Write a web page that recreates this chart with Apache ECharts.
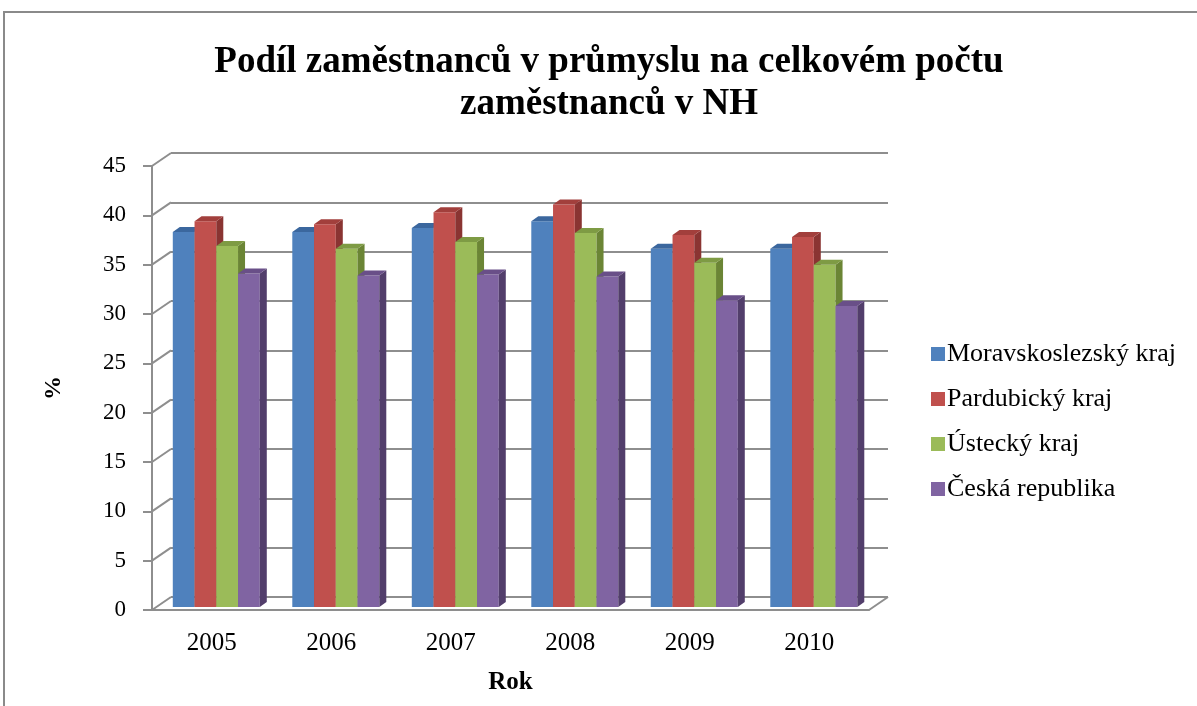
<!DOCTYPE html>
<html>
<head>
<meta charset="utf-8">
<script src="https://cdn.jsdelivr.net/npm/echarts@6/dist/echarts.min.js"></script>
<style>
  html, body { margin: 0; padding: 0; background: #fff; }
  #main { width: 1197px; height: 706px; }
</style>
</head>
<body>
<div id="main"></div>
<script>
var years = ['2005', '2006', '2007', '2008', '2009', '2010'];
var moravskoslezsky = [38.0, 38.0, 38.4, 39.1, 36.3, 36.3];
var pardubicky = [39.1, 38.8, 40.0, 40.8, 37.7, 37.5];
var ustecky = [36.6, 36.3, 37.0, 37.9, 34.9, 34.7];
var ceskaRepublika = [33.8, 33.6, 33.7, 33.5, 31.1, 30.5];
var yTicks = [0, 5, 10, 15, 20, 25, 30, 35, 40, 45];

var names = ['Moravskoslezský kraj', 'Pardubický kraj', 'Ústecký kraj', 'Česká republika'];
var colors = ['#4F81BD', '#C0504D', '#9BBB59', '#8064A2'];
var topColors = ['#3B679E', '#A23F3C', '#7E9B44', '#694F88'];
var sideColors = ['#385D8A', '#8A3432', '#6B8535', '#523E6B'];

// wall depth (back wall offset) and bar depth
var DX = 19, DY = -13;
var BDX = 7, BDY = -5;
var FONT = '"Liberation Serif", "Times New Roman", serif';

function barRender(k) {
  return function (params, api) {
    var i = api.value(0);
    var v = api.value(1);
    var base = api.coord([i, 0]);
    var head = api.coord([i, v]);
    var band = api.size([1, 0])[0];
    var w = band * 0.182;
    var x0 = base[0] - 2 * w + band * 0.038 + k * w;
    var x1 = x0 + w;
    var yb = base[1] - 3;
    var yt = head[1] - 3;
    return {
      type: 'group',
      children: [
        { type: 'polygon', shape: { points: [[x0, yb], [x1, yb], [x1, yt], [x0, yt]] },
          style: { fill: colors[k] } },
        { type: 'polygon', shape: { points: [[x1, yb], [x1 + BDX, yb + BDY], [x1 + BDX, yt + BDY], [x1, yt]] },
          style: { fill: sideColors[k] } },
        { type: 'polygon', shape: { points: [[x0, yt], [x1, yt], [x1 + BDX, yt + BDY], [x0 + BDX, yt + BDY]] },
          style: { fill: topColors[k] } }
      ]
    };
  };
}

function wallRender(params, api) {
  var v = api.value(1);
  var cs = params.coordSys;
  var y = api.coord([0, v])[1];
  var lineStyle = { stroke: '#8e8e8e', lineWidth: 2 };
  var kids = [
    { type: 'line', shape: { x1: cs.x, y1: y, x2: cs.x + DX, y2: y + DY }, style: lineStyle }
  ];
  if (v === 0) {
    kids.push({ type: 'line', shape: { x1: cs.x + cs.width, y1: y, x2: cs.x + cs.width + DX, y2: y + DY }, style: lineStyle });
  }
  return { type: 'group', children: kids };
}

var seriesData = [moravskoslezsky, pardubicky, ustecky, ceskaRepublika];
var series = seriesData.map(function (arr, k) {
  return {
    name: names[k],
    type: 'custom',
    xAxisIndex: 0,
    yAxisIndex: 0,
    renderItem: barRender(k),
    itemStyle: { color: colors[k] },
    encode: { x: 0, y: 1 },
    data: arr.map(function (v, i) { return [i, v]; }),
    z: 3
  };
});
series.push({
  type: 'custom',
  xAxisIndex: 0,
  yAxisIndex: 0,
  renderItem: wallRender,
  encode: { x: 0, y: 1 },
  data: yTicks.map(function (v) { return [0, v]; }),
  silent: true,
  z: 1
});

var chart = echarts.init(document.getElementById('main'));
chart.setOption({
  animation: false,
  color: colors,
  title: {
    text: 'Podíl zaměstnanců v průmyslu na celkovém počtu\nzaměstnanců v NH',
    left: 604,
    top: 36,
    textAlign: 'center',
    textStyle: { fontFamily: FONT, fontSize: 37, fontWeight: 'bold', color: '#000', lineHeight: 42 }
  },
  legend: {
    orient: 'vertical',
    left: 926,
    top: 336,
    icon: 'rect',
    itemWidth: 14,
    itemHeight: 14,
    itemGap: 19,
    data: names,
    textStyle: { fontFamily: FONT, fontSize: 26, lineHeight: 26, color: '#000', padding: [0, 0, 0, -3] }
  },
  grid: [
    { left: 152, right: 328, top: 166, bottom: 96 },
    { left: 171, right: 309, top: 153, bottom: 109 }
  ],
  xAxis: [
    {
      type: 'category',
      gridIndex: 0,
      data: years,
      name: 'Rok',
      nameLocation: 'middle',
      nameGap: 60,
      nameTextStyle: { fontFamily: FONT, fontSize: 25, fontWeight: 'bold', color: '#000' },
      axisLine: { lineStyle: { color: '#8e8e8e', width: 2 } },
      axisTick: { length: 9, lineStyle: { color: '#8e8e8e', width: 2 } },
      axisLabel: { fontFamily: FONT, fontSize: 25, color: '#000', margin: 21 },
      splitLine: { show: false }
    },
    {
      type: 'category',
      gridIndex: 1,
      data: years,
      show: false
    }
  ],
  yAxis: [
    {
      type: 'value',
      gridIndex: 0,
      min: 0,
      max: 45,
      interval: 5,
      name: '%',
      nameLocation: 'middle',
      nameRotate: 90,
      nameGap: 86,
      nameTextStyle: { fontFamily: FONT, fontSize: 24, fontWeight: 'bold', color: '#000' },
      axisLine: { show: true, lineStyle: { color: '#8e8e8e', width: 2 } },
      axisTick: { show: true, length: 9, lineStyle: { color: '#8e8e8e', width: 2 } },
      axisLabel: { fontFamily: FONT, fontSize: 23, color: '#000', margin: 26 },
      splitLine: { show: false }
    },
    {
      type: 'value',
      gridIndex: 1,
      min: 0,
      max: 45,
      interval: 5,
      axisLine: { show: false },
      axisTick: { show: false },
      axisLabel: { show: false },
      splitLine: { show: true, lineStyle: { color: '#8e8e8e', width: 2 } }
    }
  ],
  graphic: [
    {
      type: 'rect',
      shape: { x: 4, y: 12, width: 1200, height: 710 },
      style: { fill: null, stroke: '#8a8a8a', lineWidth: 2 },
      silent: true
    }
  ],
  series: series
});
</script>
</body>
</html>
